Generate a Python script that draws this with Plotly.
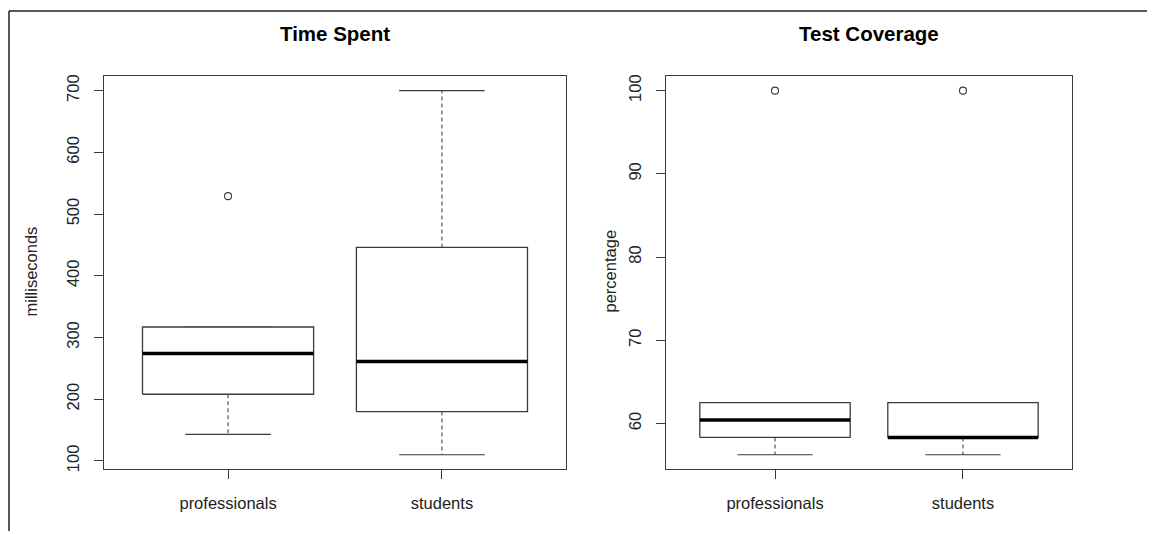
import plotly.graph_objects as go

# ---- data ----
groups = ["professionals", "students"]

# Time Spent (milliseconds)
time_lower = [143, 110]
time_q1 = [208, 180]
time_median = [274, 261]
time_q3 = [317, 446]
time_upper = [317, 700]
time_outliers = [[529], []]

# Test Coverage (percentage)
cov_lower = [56.25, 56.25]
cov_q1 = [58.33, 58.33]
cov_median = [60.42, 58.33]
cov_q3 = [62.5, 62.5]
cov_upper = [62.5, 62.5]
cov_outliers = [[100], [100]]

time_ticks = [100, 200, 300, 400, 500, 600, 700]
cov_ticks = [60, 70, 80, 90, 100]

FONT = "Liberation Sans, Arial, sans-serif"
BOXC = "#3a3a3a"
WHC = "#555555"

fig = go.Figure()


def add_boxes(lower, q1, med, q3, upper, outl, xa, ya):
    for i, _ in enumerate(groups):
        c = i + 1
        hw = 0.4
        sw = 0.2
        common = dict(xaxis=xa, yaxis=ya, mode="lines", showlegend=False, hoverinfo="skip")
        # whiskers (dashed)
        fig.add_trace(go.Scatter(x=[c, c], y=[q3[i], upper[i]],
                                 line=dict(color=WHC, width=1.2, dash="4px,3px"), **common))
        fig.add_trace(go.Scatter(x=[c, c], y=[q1[i], lower[i]],
                                 line=dict(color=WHC, width=1.2, dash="4px,3px"), **common))
        # staples
        fig.add_trace(go.Scatter(x=[c - sw, c + sw], y=[upper[i], upper[i]],
                                 line=dict(color=BOXC, width=1.2), **common))
        fig.add_trace(go.Scatter(x=[c - sw, c + sw], y=[lower[i], lower[i]],
                                 line=dict(color=BOXC, width=1.2), **common))
        # box
        fig.add_trace(go.Scatter(x=[c - hw, c + hw, c + hw, c - hw, c - hw],
                                 y=[q1[i], q1[i], q3[i], q3[i], q1[i]],
                                 fill="toself", fillcolor="white",
                                 line=dict(color=BOXC, width=1.3), **common))
        # median
        fig.add_trace(go.Scatter(x=[c - hw, c + hw], y=[med[i], med[i]],
                                 line=dict(color="black", width=3.5), **common))
        # outliers
        if outl[i]:
            fig.add_trace(go.Scatter(x=[c] * len(outl[i]), y=outl[i], xaxis=xa, yaxis=ya,
                                     mode="markers", showlegend=False, hoverinfo="skip",
                                     marker=dict(symbol="circle-open", size=7, color=BOXC,
                                                 line=dict(color=BOXC, width=1.1))))


add_boxes(time_lower, time_q1, time_median, time_q3, time_upper, time_outliers, "x", "y")
add_boxes(cov_lower, cov_q1, cov_median, cov_q3, cov_upper, cov_outliers, "x2", "y2")


def rng(lo, hi):
    d = hi - lo
    return [lo - 0.04 * d, hi + 0.04 * d]


all_time = time_lower + time_upper + sum(time_outliers, [])
all_cov = cov_lower + cov_upper + sum(cov_outliers, [])

axis_common = dict(showline=True, mirror=True, linecolor=BOXC, linewidth=1.3,
                   ticks="outside", ticklen=9, tickcolor=BOXC, tickwidth=1.2,
                   showgrid=False, zeroline=False,
                   tickfont=dict(family=FONT, size=16.5, color="#222"))

# the page body has an 8px margin, so the figure starts at (8, 8) of the window
OFF = 8
W = 1155 - OFF
H = 534 - OFF


def px_x(sx):
    return (sx - OFF) / W


def px_y(sy):
    return 1 - (sy - OFF) / H


yd = [px_y(471.7), px_y(74.7)]

ann = dict(xref="paper", yref="paper", showarrow=False, xanchor="center", yanchor="middle")

fig.update_layout(
    width=W, height=H,
    margin=dict(l=0, r=0, t=0, b=0),
    paper_bgcolor="white", plot_bgcolor="white",
    xaxis=dict(domain=[px_x(104), px_x(566)], range=[0.42, 2.58], tickvals=[1, 2], ticktext=groups,
               anchor="y", ticklabelstandoff=10, **axis_common),
    yaxis=dict(domain=yd, range=rng(min(all_time), max(all_time)), tickvals=time_ticks,
               tickangle=-90, anchor="x", ticklabelstandoff=8, **axis_common),
    xaxis2=dict(domain=[px_x(666), px_x(1072)], range=[0.42, 2.58], tickvals=[1, 2], ticktext=groups,
                anchor="y2", ticklabelstandoff=10, **axis_common),
    yaxis2=dict(domain=yd, range=rng(min(all_cov), max(all_cov)), tickvals=cov_ticks,
                tickangle=-90, anchor="x2", ticklabelstandoff=8, **axis_common),
    annotations=[
        dict(text="<b>Time Spent</b>", x=px_x((104 + 566) / 2), y=px_y(32),
             font=dict(family=FONT, size=20.5, color="black"), **ann),
        dict(text="<b>Test Coverage</b>", x=px_x((666 + 1072) / 2), y=px_y(32),
             font=dict(family=FONT, size=20.5, color="black"), **ann),
        dict(text="milliseconds", textangle=-90, x=px_x(31), y=px_y(272),
             font=dict(family=FONT, size=16.5, color="#222"), **ann),
        dict(text="percentage", textangle=-90, x=px_x(610), y=px_y(272),
             font=dict(family=FONT, size=16.5, color="#222"), **ann),
    ],
    shapes=[
        dict(type="line", xref="paper", yref="paper", x0=px_x(9), x1=px_x(9), y0=0, y1=px_y(9),
             line=dict(color="#222", width=1.5)),
        dict(type="line", xref="paper", yref="paper", x0=px_x(9), x1=1, y0=px_y(9), y1=px_y(9),
             line=dict(color="#222", width=1.5)),
    ],
)

fig.write_html("out.html")
